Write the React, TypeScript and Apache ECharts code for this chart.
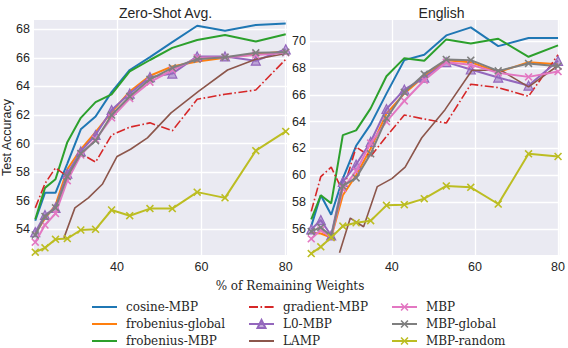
import React, { useEffect, useRef } from 'react';
import * as echarts from 'echarts';

// % of remaining weights
const xs = [20.6, 22.9, 25.4, 28.2, 31.4, 34.9, 38.7, 43.0, 47.8, 53.1, 59.0, 65.6, 72.9, 80.0];
const lampX = [27.4, 30.0, 33.2, 36.5, 40.0, 43.2, 47.2, 52.8, 59.3, 66.2, 72.9, 80.0];

const xTicks = [40, 60, 80];
const zsTicks = [54, 56, 58, 60, 62, 64, 66, 68];
const enTicks = [56, 58, 60, 62, 64, 66, 68, 70];

// Zero-Shot Avg.
const zsCosine = [54.6, 56.55, 56.55, 58.6, 61.0, 61.9, 63.6, 65.15, 66.05, 67.1, 68.25, 67.9, 68.3, 68.4];
const zsFrobGlobal = [53.7, 54.75, 55.7, 58.2, 59.6, 60.8, 62.2, 63.65, 64.75, 65.4, 65.75, 66.0, 66.25, 66.45];
const zsFrobMBP = [54.7, 56.9, 57.5, 60.1, 61.8, 62.9, 63.45, 65.05, 65.85, 66.7, 67.25, 67.6, 67.15, 67.65];
const zsGradient = [55.5, 57.2, 58.3, 57.7, 59.3, 58.7, 60.6, 61.15, 61.45, 60.9, 63.1, 63.45, 63.75, 65.9];
const zsL0 = [53.8, 55.0, 55.5, 57.9, 59.45, 60.6, 62.35, 63.5, 64.65, 64.9, 66.1, 66.1, 65.8, 66.6];
const zsLamp = [53.4, 55.5, 56.2, 57.15, 59.1, 59.6, 60.4, 62.15, 63.65, 65.15, 65.9, 66.3];
const zsMBP = [53.1, 54.3, 55.1, 57.4, 59.2, 60.3, 61.8, 63.15, 64.3, 65.15, 66.0, 66.05, 66.2, 66.35];
const zsMBPGlobal = [53.6, 54.9, 55.5, 57.7, 59.3, 60.2, 62.0, 63.3, 64.5, 65.3, 65.9, 66.05, 66.35, 66.4];
const zsRandom = [52.4, 52.7, 53.3, 53.35, 53.95, 54.0, 55.35, 54.95, 55.45, 55.45, 56.6, 56.2, 59.5, 60.85];

// English
const enCosine = [56.2, 58.5, 57.05, 59.75, 62.2, 63.8, 66.1, 68.6, 69.0, 70.45, 71.05, 69.65, 70.25, 70.25];
const enFrobGlobal = [55.7, 55.65, 55.35, 58.5, 60.0, 62.0, 64.6, 66.1, 67.4, 68.6, 68.45, 67.7, 68.45, 68.3];
const enFrobMBP = [56.7, 58.5, 57.9, 63.0, 63.35, 65.0, 67.4, 68.75, 68.55, 70.15, 69.85, 70.2, 68.85, 69.7];
const enGradient = [57.3, 59.9, 60.6, 58.8, 62.1, 61.4, 62.9, 64.5, 64.2, 63.9, 66.8, 66.55, 65.9, 69.0];
const enL0 = [55.95, 56.65, 55.5, 59.5, 60.8, 62.5, 64.95, 66.4, 67.3, 68.45, 67.9, 67.3, 66.7, 68.55];
const enLamp = [54.2, 56.8, 56.15, 59.15, 59.75, 60.6, 62.8, 64.9, 67.85, 67.85, 66.6, 68.2];
const enMBP = [55.25, 55.9, 55.35, 59.0, 60.3, 62.4, 64.0, 65.55, 67.1, 68.45, 68.25, 67.65, 67.35, 67.75];
const enMBPGlobal = [55.8, 56.1, 55.45, 59.2, 59.8, 61.6, 64.25, 66.2, 67.55, 68.65, 68.6, 67.8, 68.35, 68.15];
const enRandom = [54.15, 54.65, 55.35, 56.2, 56.45, 56.6, 57.75, 57.8, 58.25, 59.2, 59.1, 57.85, 61.6, 61.4];

const names = ['cosine-MBP', 'frobenius-global', 'frobenius-MBP', 'gradient-MBP', 'L0-MBP', 'LAMP', 'MBP', 'MBP-global', 'MBP-random'];
const colors = ['#1f77b4', '#ff7f0e', '#2ca02c', '#d62728', '#9467bd', '#8c564b', '#e377c2', '#7f7f7f', '#bcbd22'];
const markers = ['none', 'none', 'none', 'none', 'triangle', 'none', 'x', 'x', 'x'];

const zsData = [zsCosine, zsFrobGlobal, zsFrobMBP, zsGradient, zsL0, zsLamp, zsMBP, zsMBPGlobal, zsRandom];
const enData = [enCosine, enFrobGlobal, enFrobMBP, enGradient, enL0, enLamp, enMBP, enMBPGlobal, enRandom];

const X_PATH = 'path://M0,1.4L1.4,0L5,3.6L8.6,0L10,1.4L6.4,5L10,8.6L8.6,10L5,6.4L1.4,10L0,8.6L3.6,5Z';
const SANS = 'Liberation Sans';
const SERIF = 'DejaVu Serif';

function buildSeries(data: number[][], idx: number) {
  return names.map((name, i) => {
    const xv = name === 'LAMP' ? lampX : xs;
    const pts = data[i].map((v, k) => [xv[k], v]);
    const m = markers[i];
    const base: any = {
      type: 'line',
      name,
      xAxisIndex: idx,
      yAxisIndex: idx,
      data: pts,
      z: 2 + i,
      lineStyle: {
        color: colors[i],
        width: name === 'LAMP' || name === 'gradient-MBP' ? 1.6 : 2,
        type: name === 'gradient-MBP' ? [9, 2.5, 1.6, 2.5] : 'solid',
      },
      itemStyle: { color: colors[i] },
      emphasis: { disabled: true },
    };
    if (m === 'none') {
      base.symbol = 'circle';
      base.symbolSize = 0;
      base.showSymbol = false;
    } else if (m === 'triangle') {
      base.symbol = 'triangle';
      base.symbolSize = 9;
      base.itemStyle = { color: 'rgba(148,103,189,0.55)', borderColor: colors[i], borderWidth: 1.2 };
    } else {
      base.symbol = X_PATH;
      base.symbolSize = 8;
    }
    return base;
  });
}

function xAxis(idx: number) {
  return {
    type: 'value',
    gridIndex: idx,
    min: 20.3,
    max: 80.3,
    axisLine: { show: false },
    axisTick: { show: false, customValues: xTicks },
    axisLabel: { customValues: xTicks, fontFamily: SANS, fontSize: 12.5, color: '#262626', margin: 5 },
    splitLine: { show: true, lineStyle: { color: '#ffffff', width: 1.3 } },
  };
}

function yAxis(idx: number, min: number, max: number, ticks: number[]) {
  return {
    type: 'value',
    gridIndex: idx,
    min,
    max,
    axisLine: { show: false },
    axisTick: { show: false, customValues: ticks },
    axisLabel: { customValues: ticks, fontFamily: SANS, fontSize: 12.5, color: '#262626', margin: 4 },
    splitLine: { show: true, lineStyle: { color: '#ffffff', width: 1.3 } },
  };
}

function legend(left: number, items: string[]) {
  return {
    orient: 'vertical',
    left,
    top: 301,
    height: 80,
    width: 160,
    padding: 0,
    itemWidth: 25,
    itemHeight: 10,
    itemGap: 5,
    data: items.map((n) => {
      const i = names.indexOf(n);
      return markers[i] === 'none' ? { name: n, itemStyle: { opacity: 0 } } : { name: n };
    }),
    selectedMode: false,
    textStyle: { fontFamily: SERIF, fontSize: 12, color: '#262626', padding: [0, 0, 0, 4] },
  };
}

export default function App() {
  const ref = useRef<HTMLDivElement>(null);
  useEffect(() => {
    if (!ref.current) return;
    const chart = echarts.init(ref.current, null, { renderer: 'svg' });
    chart.setOption({
      animation: false,
      backgroundColor: '#ffffff',
      title: [
        { text: 'Zero-Shot Avg.', left: 160.5, top: 1, textAlign: 'center', textStyle: { fontFamily: SANS, fontSize: 14, fontWeight: 'normal', color: '#262626' } },
        { text: 'English', left: 436.5, top: 1, textAlign: 'center', textStyle: { fontFamily: SANS, fontSize: 14, fontWeight: 'normal', color: '#262626' } },
      ],
      grid: [
        { left: 34, top: 20, width: 253, height: 235, show: true, backgroundColor: '#eaeaf2', borderWidth: 0 },
        { left: 310, top: 20, width: 253, height: 235, show: true, backgroundColor: '#eaeaf2', borderWidth: 0 },
      ],
      xAxis: [xAxis(0), xAxis(1)],
      yAxis: [yAxis(0, 52.2, 68.65, zsTicks), yAxis(1, 54.04, 71.6, enTicks)],
      legend: [
        legend(91, names.slice(0, 3)),
        legend(248, names.slice(3, 6)),
        legend(391, names.slice(6, 9)),
      ],
      graphic: [
        { type: 'text', x: 7, y: 137.5, rotation: Math.PI / 2, style: { text: 'Test Accuracy', fontFamily: SANS, fontSize: 12.5, fill: '#262626', align: 'center', verticalAlign: 'middle' } },
        { type: 'text', x: 290, y: 286, style: { text: '% of Remaining Weights', fontFamily: SERIF, fontSize: 12, fill: '#262626', align: 'center', verticalAlign: 'middle' } },
      ],
      series: [...buildSeries(zsData, 0), ...buildSeries(enData, 1)],
    });
    return () => chart.dispose();
  }, []);
  return <div ref={ref} style={{ position: 'absolute', left: 0, top: 0, width: 568, height: 348 }} />;
}
